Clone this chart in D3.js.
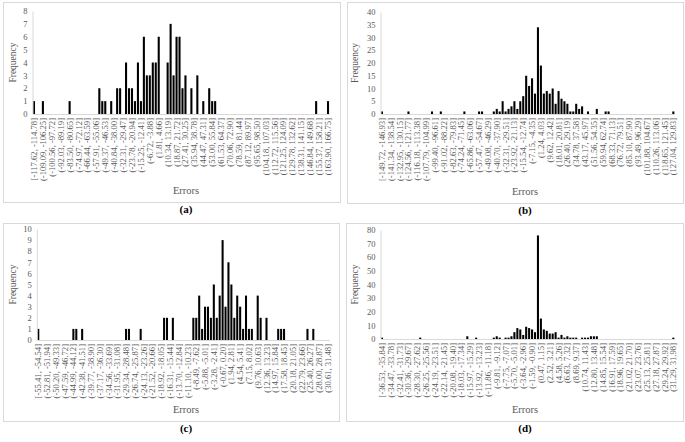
<!DOCTYPE html>
<html><head><meta charset="utf-8">
<script src="https://cdn.jsdelivr.net/npm/d3@7"></script>
<style>body{margin:0;background:#fff} svg{display:block}</style>
</head><body><svg id="c" width="685" height="442"></svg>
<script>
// ---- data ----
const ticksA = ["[-117.62, -114.78]","(-109.09, -106.25]","(-100.56, -97.72]","(-92.03, -89.19]","(-83.50, -80.65]","(-74.97, -72.12]","(-66.44, -63.59]","(-57.91, -55.06]","(-49.37, -46.53]","(-40.84, -38.00]","(-32.31, -29.47]","(-23.78, -20.94]","(-15.25, -12.41]","(-6.72, -3.88]","(1.81, 4.66]","(10.34, 13.19]","(18.87, 21.72]","(27.41, 30.25]","(35.94, 38.78]","(44.47, 47.31]","(53.00, 55.84]","(61.53, 64.37]","(70.06, 72.90]","(78.59, 81.44]","(87.12, 89.97]","(95.65, 98.50]","(104.18, 107.03]","(112.72, 115.56]","(121.25, 124.09]","(129.78, 132.62]","(138.31, 141.15]","(146.84, 149.68]","(155.37, 158.21]","(163.90, 166.75]"];
const ticksB = ["[-149.72, -146.93]","(-141.34, -138.54]","(-132.95, -130.15]","(-124.56, -121.77]","(-116.18, -113.38]","(-107.79, -104.99]","(-99.40, -96.61]","(-91.02, -88.22]","(-82.63, -79.83]","(-74.24, -71.45]","(-65.86, -63.06]","(-57.47, -54.67]","(-49.08, -46.29]","(-40.70, -37.90]","(-32.31, -29.51]","(-23.92, -21.13]","(-15.54, -12.74]","(-7.15, -4.35]","(1.24, 4.03]","(9.62, 12.42]","(18.01, 20.81]","(26.40, 29.19]","(34.78, 37.58]","(43.17, 45.97]","(51.56, 54.35]","(59.94, 62.74]","(68.33, 71.13]","(76.72, 79.51]","(85.10, 87.90]","(93.49, 96.29]","(101.88, 104.67]","(110.26, 113.06]","(118.65, 121.45]","(127.04, 129.83]"];
const ticksC = ["[-55.41, -54.54]","(-52.81, -51.94]","(-50.20, -49.33]","(-47.59, -46.72]","(-44.99, -44.12]","(-42.38, -41.51]","(-39.77, -38.90]","(-37.17, -36.30]","(-34.56, -33.69]","(-31.95, -31.08]","(-29.34, -28.48]","(-26.74, -25.87]","(-24.13, -23.26]","(-21.52, -20.66]","(-18.92, -18.05]","(-16.31, -15.44]","(-13.70, -12.84]","(-11.10, -10.23]","(-8.49, -7.62]","(-5.88, -5.01]","(-3.28, -2.41]","(-0.67, 0.20]","(1.94, 2.81]","(4.54, 5.41]","(7.15, 8.02]","(9.76, 10.63]","(12.36, 13.23]","(14.97, 15.84]","(17.58, 18.45]","(20.18, 21.05]","(22.79, 23.66]","(25.40, 26.27]","(28.00, 28.87]","(30.61, 31.48]"];
const ticksD = ["[-36.53, -35.84]","(-34.47, -33.78]","(-32.41, -31.73]","(-30.36, -29.67]","(-28.30, -27.62]","(-26.25, -25.56]","(-24.19, -23.51]","(-22.14, -21.45]","(-20.08, -19.40]","(-18.03, -17.34]","(-15.97, -15.29]","(-13.92, -13.23]","(-11.86, -11.18]","(-9.81, -9.12]","(-7.75, -7.07]","(-5.70, -5.01]","(-3.64, -2.96]","(-1.59, -0.90]","(0.47, 1.15]","(2.52, 3.21]","(4.58, 5.26]","(6.63, 7.32]","(8.69, 9.37]","(10.74, 11.43]","(12.80, 13.48]","(14.85, 15.54]","(16.91, 17.59]","(18.96, 19.65]","(21.02, 21.70]","(23.07, 23.76]","(25.13, 25.81]","(27.18, 27.87]","(29.24, 29.92]","(31.29, 31.98]"];

const freqA = [1,0,0,1,0,0,0,0,0,0, 0,0,1,0,0,0,0,0,0,0, 0,0,2,1,1,0,1,0,2,2, 0,4,2,2,1,4,1,6,3,3,
               4,4,6,0,0,4,7,3,6,6, 2,3,0,2,0,3,0,1,0,2, 1,1,0,0,0,0,0,0,0,0, 0,0,0,0,0,0,0,0,0,0,
               0,0,0,0,0,0,0,0,0,0, 0,0,0,0,0,1,0,0,0,1];
const freqB = [1,0,0,0,0,0,0,0,0,1, 0,0,0,0,0,0,0,1,0,0, 1,0,0,0,0,0,0,0,1,0, 0,0,0,1,1,0,0,0,1,2,
               1,5,1,2,3,5,2,5,7,15, 11,14,8,34,19,8,9,8,10,4, 9,6,5,4,1,1,4,2,3,0, 1,0,0,2,0,0,1,1,0,0,
               0,0,0,0,0,0,0,0,0,0, 0,0,0,0,0,0,0,0,0,1];
const freqC = [1,0,0,0,0,0,0,0,0,0, 0,0,1,1,0,1,0,0,0,0, 0,0,0,0,0,0,0,0,0,0, 1,1,0,0,0,1,0,0,0,0,
               0,0,0,2,2,0,2,0,0,0, 0,0,0,2,2,4,1,3,3,2, 5,2,4,9,3,7,5,2,4,3, 1,4,1,1,0,4,2,0,2,0,
               0,0,1,1,1,0,0,0,0,0, 0,0,1,0,1,0,0,0,0,0];
const freqD = [1,0,0,0,0,0,0,0,0,0, 0,0,0,1,0,0,0,0,0,0, 0,0,0,0,0,0,0,0,0,2, 0,0,1,0,0,0,0,0,1,2,
               1,0,1,1,2,5,8,7,3,9, 8,7,5,76,15,7,6,4,4,5, 1,3,1,2,1,1,1,0,1,1, 1,2,2,2,0,0,0,0,0,0,
               0,0,0,0,0,0,0,0,0,0, 0,0,0,0,0,0,0,0,0,1];
const yMax = [8, 40, 10, 80];
const yStep = [1, 5, 1, 10];
const captions = ["(a)", "(b)", "(c)", "(d)"];

// ---- layout ----
const L = [
  {frame:[3,2,337,200], x0:32.5, x1:329.5, yb:114, yt:11, fx:13, cx:186},
  {frame:[347,2,336,201], x0:380.5, x1:674.8, yb:114, yt:12, fx:355, cx:525},
  {frame:[3,223,336,198], x0:36.8, x1:329.4, yb:340, yt:229, fx:13, cx:186},
  {frame:[346,223,337,198], x0:380.5, x1:674.8, yb:339, yt:230, fx:355, cx:525}
];
const freqs = [freqA, freqB, freqC, freqD];
const ticks = [ticksA, ticksB, ticksC, ticksD];
const serif = "'Liberation Serif','Times New Roman',serif";
const svg = d3.select('#c');

L.forEach((p, k) => {
  const g = svg.append('g');
  g.append('rect').attr('x', p.frame[0]+0.5).attr('y', p.frame[1]+0.5)
    .attr('width', p.frame[2]).attr('height', p.frame[3])
    .attr('fill', 'none').attr('stroke', '#d9d9d9');
  const data = freqs[k];
  const x = d3.scaleBand().domain(d3.range(data.length)).range([p.x0, p.x1]).paddingInner(0.3).paddingOuter(0.15);
  const y = d3.scaleLinear().domain([0, yMax[k]]).range([p.yb, p.yt]);

  g.selectAll('rect.bar').data(data).join('rect').attr('class','bar')
    .attr('x', (d,i) => x(i)).attr('width', x.bandwidth())
    .attr('y', d => y(d)).attr('height', d => p.yb - y(d)).attr('fill', '#000');

  const ya = g.append('g').attr('transform', `translate(${p.x0},0)`)
    .call(d3.axisLeft(y).tickValues(d3.range(0, yMax[k] + 0.001, yStep[k])).tickSize(0).tickPadding(5));
  ya.select('.domain').attr('stroke', '#d9d9d9');
  ya.selectAll('text').attr('font-family', serif).attr('font-size', 8.5).attr('fill', '#595959');

  const xa = g.append('g').attr('transform', `translate(0,${p.yb})`)
    .call(d3.axisBottom(x).tickValues(d3.range(0, data.length, 3)).tickFormat(i => ticks[k][i/3]).tickSize(0));
  xa.select('.domain').attr('stroke', '#d9d9d9');
  xa.selectAll('text').attr('font-family', serif).attr('font-size', 8.6).attr('fill', '#595959')
    .attr('transform', 'rotate(-90)').attr('x', -4).attr('y', 0).attr('dy', '0.35em')
    .style('text-anchor', 'end');

  g.append('text').attr('transform', `translate(${p.fx},${(p.yb+p.yt)/2}) rotate(-90)`)
    .attr('text-anchor', 'middle').attr('dy', '0.35em')
    .attr('font-family', serif).attr('font-size', 9.5).attr('fill', '#595959').text('Frequency');
  g.append('text').attr('x', p.cx).attr('y', p.frame[1] + p.frame[3] - 8)
    .attr('text-anchor', 'middle').attr('font-family', serif).attr('font-size', 10.5)
    .attr('fill', '#595959').text('Errors');
  g.append('text').attr('x', p.cx).attr('y', p.frame[1] + p.frame[3] + 11)
    .attr('text-anchor', 'middle').attr('font-family', serif).attr('font-size', 11)
    .attr('font-weight', 'bold').attr('fill', '#000').text(captions[k]);
});
</script></body></html>
